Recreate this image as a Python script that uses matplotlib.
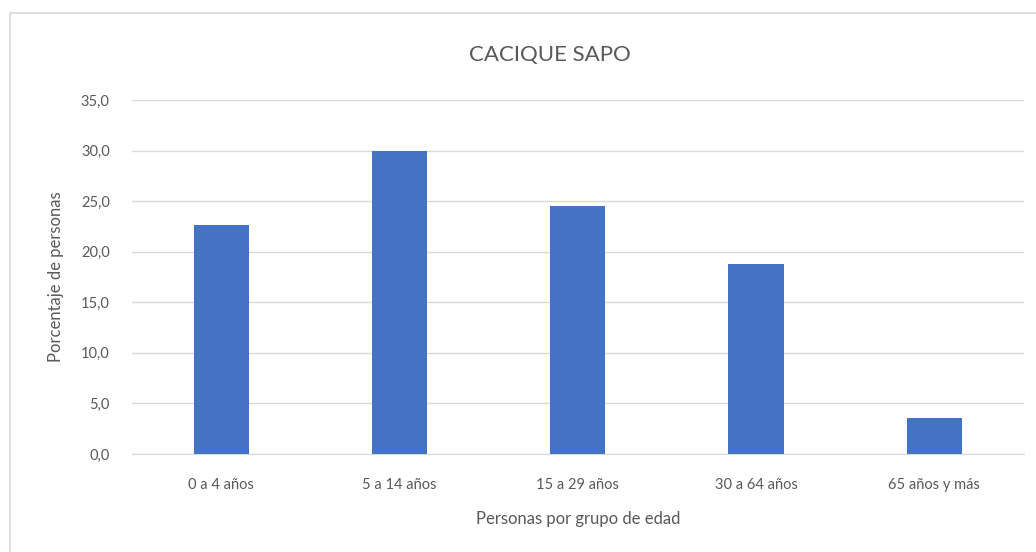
import matplotlib.pyplot as plt
from matplotlib.patches import Rectangle

# data
categories = ['0 a 4 años', '5 a 14 años', '15 a 29 años', '30 a 64 años', '65 años y más']
percentages = [22.6, 30.0, 24.5, 18.8, 3.6]
y_ticks = [0, 5, 10, 15, 20, 25, 30, 35]

plt.rcParams['font.family'] = ['Lato', 'DejaVu Sans']

fig = plt.figure(figsize=(10.36, 5.52), dpi=100)
fig.patches.append(Rectangle((10 / 1036, -0.05), 1.2, 1 - 13 / 552 + 0.05,
                             transform=fig.transFigure, fill=False,
                             edgecolor='#d9d9d9', linewidth=1.2))

ax = fig.add_axes([0.1274, 0.1775, 0.8606, 0.6413])
x = range(len(categories))
ax.bar(x, percentages, width=0.31, color='#4472C4', zorder=3)

ax.set_xlim(-0.5, len(categories) - 0.5)
ax.set_ylim(0, 35)
ax.set_yticks(y_ticks)
ax.set_yticklabels([f'{v:.1f}'.replace('.', ',') for v in y_ticks])
ax.set_xticks(list(x))
ax.set_xticklabels(categories)

ax.grid(axis='y', color='#d9d9d9', linewidth=1, zorder=0)
for s in ['top', 'right', 'left']:
    ax.spines[s].set_visible(False)
ax.spines['bottom'].set_color('#d9d9d9')
ax.tick_params(axis='both', length=0, colors='#595959', labelsize=10.5)
ax.tick_params(axis='x', pad=17)
ax.tick_params(axis='y', pad=16)

ax.set_xlabel('Personas por grupo de edad', color='#595959', fontsize=12, labelpad=14)
ax.set_ylabel('Porcentaje de personas', color='#595959', fontsize=12, labelpad=12)
fig.text(0.5305, 0.9, 'CACIQUE SAPO', ha='center', va='center', color='#595959', fontsize=16)

fig.savefig('out.png', dpi=100)
